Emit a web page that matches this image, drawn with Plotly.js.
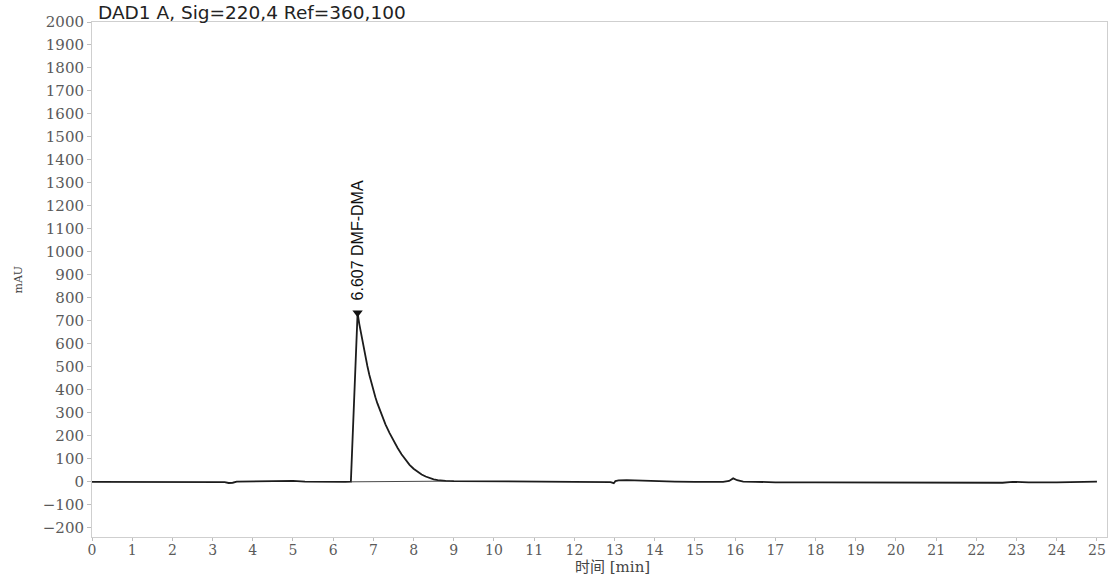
<!DOCTYPE html>
<html>
<head>
<meta charset="utf-8">
<script src="https://cdn.plot.ly/plotly-3.0.1.min.js"></script>
<style>
  html, body { margin: 0; padding: 0; background: #fff; }
  #chart { width: 1116px; height: 580px; }
</style>
</head>
<body>
<div id="chart"></div>
<script>
// DAD1 A chromatogram, retention time (min) vs absorbance (mAU)
const timeMin = [
  0, 1, 2, 3, 3.3, 3.4, 3.5, 3.6, 4.0, 4.2, 4.3, 4.5, 4.8, 5.0, 5.3, 5.6, 6.0, 6.3, 6.44,
  6.5, 6.55, 6.607, 6.65, 6.7, 6.75, 6.8, 6.85, 6.9, 6.95, 7.0, 7.05, 7.1, 7.2, 7.3, 7.4,
  7.5, 7.6, 7.7, 7.8, 7.9, 8.0, 8.1, 8.2, 8.3, 8.4, 8.5, 8.6, 8.7, 8.8, 9.0, 9.5, 10, 11,
  12, 12.9, 12.98, 13.02, 13.1, 13.3, 13.6, 14.0, 14.2, 14.5, 15.0, 15.7, 15.85, 15.95,
  16.05, 16.2, 16.5, 17, 18, 19, 20, 21, 22, 22.5, 22.65, 22.9, 23.3, 24.0, 24.3, 24.5, 25
];
const signalMAU = [
  0, 0, 0, 0, -1, -5, -4, 1, 2, 4, 2, 5, 5, 4, 1, 0, 0, 0, 1,
  260, 540, 735, 686, 636, 588, 545, 504, 465, 430, 398, 368, 341, 291, 250, 213,
  178, 148, 120, 95, 74, 57, 43, 32, 23, 16, 11, 7, 5, 4, 3, 2, 1, 0,
  0, -1, -6, 3, 6, 7, 5, 4, 4, 1, 0, 0, 4, 15,
  7, 1, 0, -2, -2, -2, -2, -2, -2, -2, -4, 0, -2, -2, -2, 1, 1
];

// Integration baseline under the main peak
const baseTime = [6.44, 8.9];
const baseMAU = [0, 3];

// Peak label
const peakTime = 6.607;
const peakMAU = 735;
const peakName = 'DMF-DMA';

const xTicks = [];
for (let i = 0; i <= 25; i++) xTicks.push(i);
const yTicks = [];
for (let v = -200; v <= 2000; v += 100) yTicks.push(v);

const traces = [
  {
    x: timeMin, y: signalMAU, type: 'scatter', mode: 'lines',
    line: { color: '#1c1c1c', width: 1.8 }, hoverinfo: 'x+y'
  },
  {
    x: baseTime, y: baseMAU, type: 'scatter', mode: 'lines',
    line: { color: '#333', width: 0.9 }, hoverinfo: 'skip'
  },
  {
    x: [peakTime], y: [peakMAU], type: 'scatter', mode: 'markers',
    marker: { symbol: 'triangle-down', size: 9, color: '#111' }, hoverinfo: 'skip'
  }
];

const serif = 'DejaVu Serif';

const axisCommon = {
  showline: true, mirror: true, linecolor: '#cfcfcf', linewidth: 1,
  showgrid: false, zeroline: false,
  ticks: 'outside', ticklen: 4, tickcolor: '#bdbdbd', tickwidth: 1,
  tickfont: { family: serif, size: 15, color: '#5a5a5a' }
};

const layout = {
  width: 1116, height: 580,
  margin: { l: 92, r: 9, t: 22, b: 43 },
  paper_bgcolor: '#fff', plot_bgcolor: '#fff',
  showlegend: false,
  xaxis: Object.assign({}, axisCommon, {
    range: [0, 25.25], tickmode: 'array', tickvals: xTicks,
    ticklen: 3, ticklabelstandoff: -3,
    tickfont: { family: serif, size: 14, color: '#5a5a5a' }
  }),
  yaxis: Object.assign({}, axisCommon, {
    range: [-240, 2000], tickmode: 'array', tickvals: yTicks
  }),
  annotations: [
    {
      text: 'DAD1 A, Sig=220,4 Ref=360,100',
      xref: 'paper', yref: 'paper', x: 0.004, y: 1, xanchor: 'left', yanchor: 'bottom',
      yshift: -3, showarrow: false,
      font: { family: 'DejaVu Sans', size: 18.5, color: '#222' }
    },
    {
      text: '时间 [min]',
      xref: 'paper', yref: 'paper', x: 0.513, y: 0, xanchor: 'center', yanchor: 'middle',
      yshift: -30, showarrow: false,
      font: { family: serif + ', Noto Sans CJK SC', size: 15, color: '#444' }
    },
    {
      text: 'mAU',
      xref: 'paper', yref: 'paper', x: 0, y: 0.5, xanchor: 'center', yanchor: 'middle',
      xshift: -74, textangle: -90, showarrow: false,
      font: { family: serif, size: 11, color: '#444' }
    },
    {
      text: peakTime.toFixed(3) + ' ' + peakName,
      x: peakTime, y: peakMAU, xref: 'x', yref: 'y',
      textangle: -90, xanchor: 'center', yanchor: 'bottom', yshift: 10,
      showarrow: false,
      font: { family: 'Liberation Sans', size: 16, color: '#111' }
    }
  ]
};

Plotly.newPlot('chart', traces, layout, { displayModeBar: false, staticPlot: true });
</script>
</body>
</html>
